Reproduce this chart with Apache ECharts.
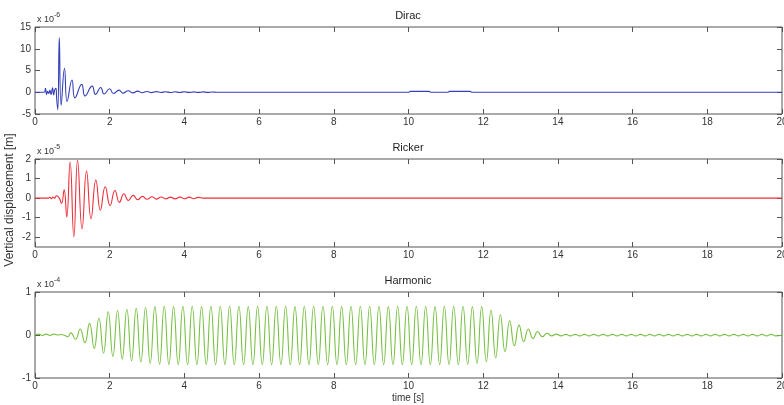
<!DOCTYPE html>
<html>
<head>
<meta charset="utf-8">
<script src="https://cdn.jsdelivr.net/npm/echarts@6/dist/echarts.min.js"></script>
<style>
	html, body { margin: 0; padding: 0; background: #fff; }
	#main { width: 784px; height: 405px; }
</style>
</head>
<body>
<div id="main"></div>
<script>
// x ticks (time [s])
var xTicks = [0, 2, 4, 6, 8, 10, 12, 14, 16, 18, 20];
var titles = ['Dirac', 'Ricker', 'Harmonic'];
var exponents = ['-6', '-5', '-4'];

// Dirac, values x 10^-6
var dirac = [
	[0, 0], [0.25, 0], [0.28, 0.9], [0.31, -0.5], [0.34, 0.2], [0.37, -0.3], [0.40, 0.5], [0.43, -0.5],
	[0.47, 1.0], [0.50, -0.6], [0.53, 0.6], [0.56, 0.9], [0.58, -1.5], [0.61, -4.0], [0.65, 12.6],
	[0.70, -3.0], [0.79, 5.5], [0.86, -2.1], [0.99, 2.8], [1.07, -1.3], [1.25, 1.8], [1.34, -0.85],
	[1.53, 1.4], [1.62, -0.5], [1.76, 1.1], [1.85, -0.4], [2.00, 0.8], [2.10, -0.3], [2.25, 0.5],
	[2.35, -0.2], [2.50, 0.35], [2.62, -0.15], [2.75, 0.25], [2.87, -0.1], [3.00, 0.18], [3.12, -0.08],
	[3.25, 0.15], [3.37, -0.06], [3.50, 0.12], [3.62, -0.06], [3.75, 0.1], [3.87, -0.05], [4.00, 0.1],
	[4.12, -0.04], [4.25, 0.08], [4.37, -0.04], [4.50, 0.08], [4.62, -0.03], [4.75, 0.06], [4.85, 0],
	[10.0, 0], [10.05, 0.2], [10.55, 0.2], [10.6, 0], [11.05, 0], [11.1, 0.2], [11.65, 0.2], [11.7, 0], [20, 0]
];

// Ricker, values x 10^-5
var ricker = [
	[0, 0], [0.36, 0], [0.40, 0.04], [0.44, -0.03], [0.48, 0.05], [0.52, 0], [0.58, 0.12], [0.65, 0],
	[0.71, -0.27], [0.78, 0.42], [0.85, -0.96], [0.94, 1.85], [1.04, -1.98], [1.14, 1.93], [1.26, -1.58],
	[1.38, 1.38], [1.50, -1.05], [1.63, 0.92], [1.75, -0.62], [1.88, 0.58], [2.01, -0.38], [2.14, 0.39],
	[2.26, -0.22], [2.38, 0.22], [2.50, -0.12], [2.63, 0.14], [2.75, -0.08], [2.88, 0.09], [3.00, -0.06],
	[3.13, 0.07], [3.25, -0.05], [3.38, 0.06], [3.50, -0.04], [3.63, 0.05], [3.75, -0.04], [3.88, 0.05],
	[4.00, -0.03], [4.13, 0.05], [4.25, -0.03], [4.38, 0.04], [4.50, 0], [20, 0]
];

// Harmonic, values x 10^-4
var harmonic = [
	[0, 0], [0.1, 0.02], [0.2, -0.01], [0.3, 0.02], [0.4, -0.01], [0.5, 0.02], [0.6, 0], [0.7, 0.01],
	[0.8, -0.01], [0.88, -0.04], [0.96, 0.05], [1.085, -0.1], [1.21, 0.14], [1.335, -0.18], [1.46, 0.27],
	[1.585, -0.31], [1.71, 0.39], [1.835, -0.42], [1.96, 0.54], [2.085, -0.5], [2.21, 0.57], [2.335, -0.56],
	[2.46, 0.6], [2.585, -0.6], [2.71, 0.62], [2.835, -0.63], [2.96, 0.64],
	[3.085, -0.66], [3.21, 0.66], [3.335, -0.68], [3.46, 0.67], [3.585, -0.69], [3.71, 0.66], [3.835, -0.69], [3.96, 0.67],
	[4.085, -0.69], [4.21, 0.67], [4.335, -0.69], [4.46, 0.66], [4.585, -0.69], [4.71, 0.67], [4.835, -0.69], [4.96, 0.67],
	[5.085, -0.69], [5.21, 0.67], [5.335, -0.69], [5.46, 0.67], [5.585, -0.69], [5.71, 0.66], [5.835, -0.69], [5.96, 0.67],
	[6.085, -0.69], [6.21, 0.67], [6.335, -0.69], [6.46, 0.67], [6.585, -0.69], [6.71, 0.67], [6.835, -0.69], [6.96, 0.66],
	[7.085, -0.69], [7.21, 0.67], [7.335, -0.69], [7.46, 0.67], [7.585, -0.69], [7.71, 0.67], [7.835, -0.69], [7.96, 0.67],
	[8.085, -0.69], [8.21, 0.66], [8.335, -0.69], [8.46, 0.67], [8.585, -0.69], [8.71, 0.67], [8.835, -0.69], [8.96, 0.67],
	[9.085, -0.69], [9.21, 0.67], [9.335, -0.69], [9.46, 0.66], [9.585, -0.69], [9.71, 0.67], [9.835, -0.69], [9.96, 0.67],
	[10.085, -0.69], [10.21, 0.67], [10.335, -0.69], [10.46, 0.67], [10.585, -0.69], [10.71, 0.66], [10.835, -0.69], [10.96, 0.67],
	[11.085, -0.69], [11.21, 0.67], [11.335, -0.69], [11.46, 0.67], [11.585, -0.68], [11.71, 0.66], [11.835, -0.66], [11.96, 0.66],
	[12.085, -0.62], [12.21, 0.58], [12.335, -0.53], [12.46, 0.47], [12.585, -0.39], [12.71, 0.33], [12.835, -0.25], [12.96, 0.23],
	[13.085, -0.155], [13.21, 0.14], [13.335, -0.085], [13.46, 0.08], [13.585, -0.04], [13.71, 0.04], [13.835, -0.02], [13.96, 0.02],
	[14.085, -0.02], [14.21, 0.015], [14.335, -0.02], [14.46, 0.015], [14.585, -0.02], [14.71, 0.015], [14.835, -0.02], [14.96, 0.015],
	[15.085, -0.02], [15.21, 0.015], [15.335, -0.02], [15.46, 0.015], [15.585, -0.02], [15.71, 0.015], [15.835, -0.02], [15.96, 0.015],
	[16.085, -0.02], [16.21, 0.015], [16.335, -0.02], [16.46, 0.015], [16.585, -0.02], [16.71, 0.015], [16.835, -0.02], [16.96, 0.015],
	[17.085, -0.02], [17.21, 0.015], [17.335, -0.02], [17.46, 0.015], [17.585, -0.02], [17.71, 0.015], [17.835, -0.02], [17.96, 0.015],
	[18.085, -0.02], [18.21, 0.015], [18.335, -0.02], [18.46, 0.015], [18.585, -0.02], [18.71, 0.015], [18.835, -0.02], [18.96, 0.015],
	[19.085, -0.02], [19.21, 0.015], [19.335, -0.02], [19.46, 0.015], [19.585, -0.02], [19.71, 0.015], [19.835, -0.02], [20, 0]
];

// y ticks per panel
var diracTicks = [-5, 0, 5, 10, 15];
var rickerTicks = [-2, -1, 0, 1, 2];
var harmonicTicks = [-1, 0, 1];

var font = 'Liberation Sans, Arial, sans-serif';
var axisColor = '#555';
var textColor = '#333';

var grids = [
	{ left: 35, right: 2, top: 27, height: 87 },
	{ left: 35, right: 2, top: 159, height: 88 },
	{ left: 35, right: 2, top: 292, height: 86 }
];
var yRanges = [[-5, 15, diracTicks], [-2.5, 2, rickerTicks], [-1, 1, harmonicTicks]];
var seriesData = [dirac, ricker, harmonic];
var colors = ['#3540b8', '#ee2f3a', '#78c043'];

var xAxes = [], yAxes = [], series = [], graphics = [];
for(var i = 0; i < 3; i++) {
	grids[i].show = true;
	grids[i].borderColor = axisColor;
	grids[i].borderWidth = 1;
	grids[i].outerBoundsMode = 'none';
	grids[i].containLabel = false;
	// bottom and top x axis
	xAxes.push({
		type: 'value', gridIndex: i, min: 0, max: 20, interval: 2, position: 'bottom',
		axisLine: { show: false, onZero: false },
		axisTick: { inside: true, length: 5, customValues: xTicks, lineStyle: { color: axisColor } },
		axisLabel: { margin: 3, fontSize: 10, color: textColor, fontFamily: font, customValues: xTicks },
		splitLine: { show: false }
	});
	xAxes.push({
		type: 'value', gridIndex: i, min: 0, max: 20, interval: 2, position: 'top',
		axisLine: { show: false, onZero: false },
		axisTick: { inside: true, length: 5, customValues: xTicks, lineStyle: { color: axisColor } },
		axisLabel: { show: false },
		splitLine: { show: false }
	});
	var yr = yRanges[i];
	for(var k = 0; k < 2; k++) {
		yAxes.push({
			type: 'value', gridIndex: i, min: yr[0], max: yr[1], position: k == 0 ? 'left' : 'right',
			axisLine: { show: false, onZero: false },
			axisTick: { inside: true, length: 5, customValues: yr[2], lineStyle: { color: axisColor } },
			axisLabel: { show: k == 0, customValues: yr[2], margin: 4, fontSize: 10, color: textColor, fontFamily: font },
			splitLine: { show: false }
		});
	}
	series.push({
		type: 'line',
		xAxisIndex: i * 2,
		yAxisIndex: i * 2,
		data: seriesData[i],
		smooth: 0.5,
		showSymbol: false,
		animation: false,
		lineStyle: { color: colors[i], width: 1.1 }
	});
	graphics.push({
		type: 'text', x: 408, y: grids[i].top - 17,
		style: { text: titles[i], fill: '#222', font: '11px ' + font, textAlign: 'center' }
	});
	graphics.push({
		type: 'text', x: 37, y: grids[i].top - 12,
		style: { text: 'x 10', fill: textColor, font: '9px ' + font }
	});
	graphics.push({
		type: 'text', x: 54, y: grids[i].top - 15,
		style: { text: exponents[i], fill: textColor, font: '7px ' + font }
	});
}

graphics.push({
	type: 'text', x: 4, y: 200, rotation: Math.PI / 2,
	style: { text: 'Vertical displacement [m]', fill: textColor, font: '12px ' + font, textAlign: 'center', textVerticalAlign: 'top' }
});
graphics.push({
	type: 'text', x: 408, y: 393,
	style: { text: 'time [s]', fill: textColor, font: '10px ' + font, textAlign: 'center' }
});

var myChart = echarts.init(document.getElementById('main'));
var option = {
	backgroundColor: '#fff',
	animation: false,
	grid: grids,
	xAxis: xAxes,
	yAxis: yAxes,
	series: series,
	graphic: graphics
};
myChart.setOption(option);
</script>
</body>
</html>
